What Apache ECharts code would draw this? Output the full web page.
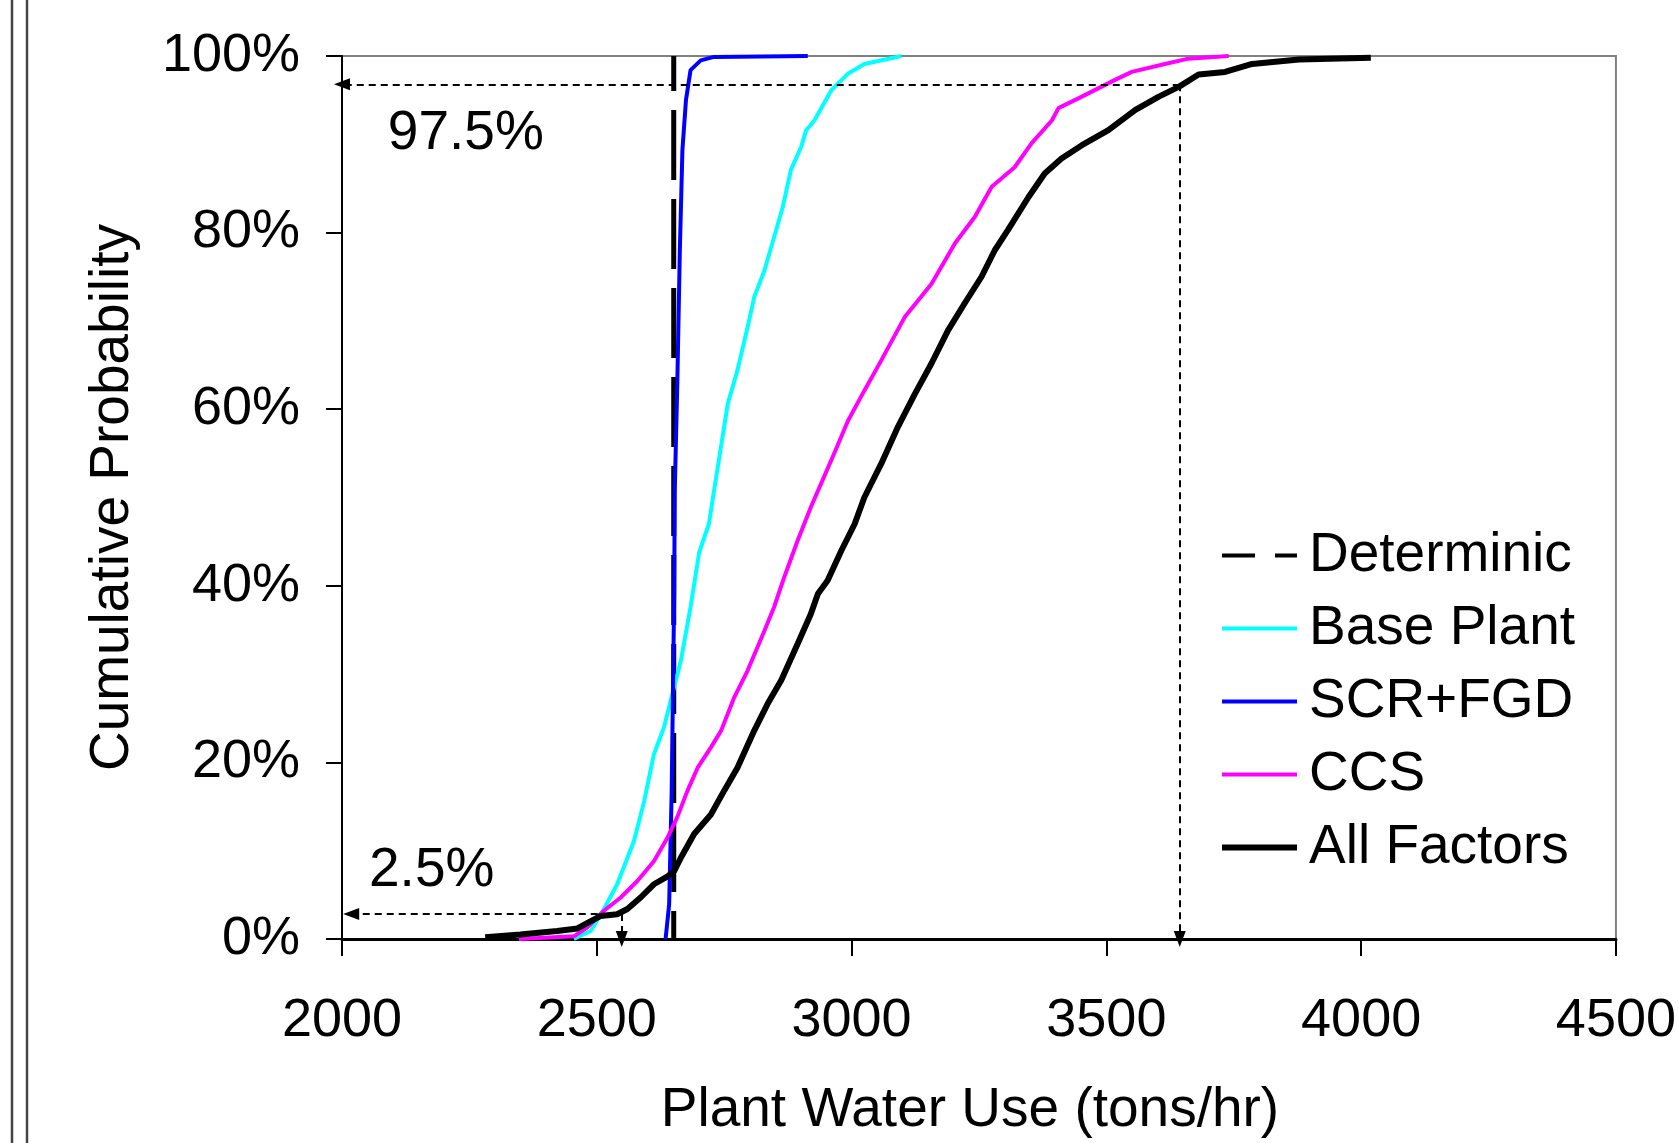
<!DOCTYPE html>
<html>
<head>
<meta charset="utf-8">
<script src="https://cdn.jsdelivr.net/npm/echarts@6/dist/echarts.min.js"></script>
<style>
html,body{margin:0;padding:0;background:#fff;overflow:hidden;}
#chart{width:1679px;height:1143px;}
</style>
</head>
<body>
<div id="chart"></div>
<script>
// ---- data (x = plant water use, tons/hr; y = cumulative probability) ----
const seriesNames = ['Determinic', 'Base Plant', 'SCR+FGD', 'CCS', 'All Factors'];
const xTicks = [2000, 2500, 3000, 3500, 4000, 4500];
const yTicks = [0, 0.2, 0.4, 0.6, 0.8, 1.0];

const determinic = [[2651, 1], [2651, 0]];

const basePlant = [[2455,0],[2488,0.009],[2514,0.034],[2540,0.062],[2573,0.111],[2593,0.156],[2612,0.209],[2632,0.240],[2648,0.277],[2665,0.315],[2684,0.376],[2701,0.438],[2720,0.470],[2728,0.500],[2757,0.606],[2776,0.644],[2796,0.693],[2809,0.727],[2829,0.757],[2848,0.795],[2865,0.829],[2881,0.871],[2901,0.897],[2911,0.916],[2927,0.927],[2960,0.961],[2993,0.980],[3025,0.991],[3098,1.0]];

const scrFgd = [[2635,0],[2642,0.039],[2647,0.168],[2652,0.395],[2653,0.508],[2658,0.629],[2663,0.780],[2668,0.893],[2675,0.950],[2684,0.984],[2704,0.995],[2730,0.999],[2914,1.0]];

const ccs = [[2347,0],[2455,0.003],[2481,0.013],[2514,0.032],[2547,0.047],[2580,0.066],[2612,0.088],[2639,0.115],[2658,0.138],[2678,0.168],[2698,0.194],[2724,0.217],[2744,0.236],[2770,0.274],[2796,0.304],[2829,0.349],[2848,0.376],[2868,0.410],[2894,0.451],[2920,0.489],[2960,0.542],[2993,0.587],[3025,0.621],[3058,0.655],[3104,0.704],[3157,0.742],[3203,0.788],[3242,0.818],[3275,0.852],[3320,0.874],[3353,0.901],[3393,0.927],[3406,0.941],[3452,0.954],[3517,0.973],[3550,0.982],[3615,0.991],[3661,0.997],[3740,1.0]];

const allFactors = [[2281,0.002],[2350,0.005],[2422,0.009],[2462,0.012],[2481,0.018],[2507,0.026],[2540,0.028],[2560,0.034],[2586,0.047],[2612,0.062],[2639,0.071],[2652,0.077],[2665,0.092],[2691,0.119],[2724,0.141],[2750,0.168],[2776,0.194],[2809,0.236],[2835,0.266],[2862,0.293],[2894,0.334],[2920,0.368],[2934,0.391],[2953,0.406],[2980,0.440],[3006,0.470],[3025,0.500],[3058,0.538],[3091,0.580],[3124,0.617],[3157,0.652],[3189,0.689],[3222,0.720],[3255,0.750],[3281,0.780],[3307,0.803],[3347,0.840],[3379,0.867],[3412,0.884],[3452,0.899],[3504,0.916],[3557,0.939],[3603,0.954],[3642,0.965],[3681,0.979],[3733,0.982],[3786,0.991],[3878,0.996],[4019,0.998]];

// annotation arrows: [from, to] in data units
const arrowLines = [
  [[3644, 0.968], [2000, 0.968]],
  [[3644, 0.968], [3644, 0]],
  [[2549, 0.0283], [2018, 0.0283]],
  [[2549, 0.0283], [2549, 0]]
];
const annotTexts = ['97.5%', '2.5%'];
const annotPos = [[2090, 0.9116], [2053, 0.0771]];

// ---- chart ----
const FONT = '"Liberation Sans", Arial, sans-serif';
const hiddenSymbol = { color: 'rgba(0,0,0,0)', borderWidth: 0, opacity: 0 };
const chart = echarts.init(document.getElementById('chart'));
chart.setOption({
  animation: false,
  backgroundColor: '#ffffff',
  textStyle: { fontFamily: FONT, color: '#000' },
  grid: { left: 342, right: 62, top: 56, bottom: 201, show: true, borderColor: '#808080', borderWidth: 2, containLabel: false },
  graphic: [
    { type: 'line', shape: { x1: 12, y1: 0, x2: 12, y2: 1143 }, style: { stroke: '#444', lineWidth: 2.5 } },
    { type: 'line', shape: { x1: 27, y1: 0, x2: 27, y2: 1143 }, style: { stroke: '#444', lineWidth: 2.5 } }
  ],
  legend: {
    orient: 'vertical',
    left: 1219,
    top: 528,
    padding: 0,
    itemWidth: 75,
    itemHeight: 14,
    itemGap: 18,
    textStyle: { fontFamily: FONT, fontSize: 55, color: '#000', padding: [0, 0, 0, 7] },
    data: [
      { name: seriesNames[0], itemStyle: hiddenSymbol, lineStyle: { type: [33, 20], dashOffset: 0, width: 4, color: '#000' } },
      { name: seriesNames[1], itemStyle: hiddenSymbol, lineStyle: { width: 4, color: '#00FFFF' } },
      { name: seriesNames[2], itemStyle: hiddenSymbol, lineStyle: { width: 4, color: '#0000FF' } },
      { name: seriesNames[3], itemStyle: hiddenSymbol, lineStyle: { width: 4, color: '#FF00FF' } },
      { name: seriesNames[4], itemStyle: hiddenSymbol, lineStyle: { width: 6, color: '#000' } }
    ]
  },
  xAxis: {
    type: 'value', min: xTicks[0], max: xTicks[xTicks.length - 1], interval: 500,
    name: 'Plant Water Use (tons/hr)', nameLocation: 'middle', nameGap: 144,
    nameTextStyle: { fontFamily: FONT, fontSize: 55, color: '#000', padding: [0, 18, 0, 0] },
    axisLine: { show: true, onZero: false, lineStyle: { color: '#000', width: 3 } },
    axisTick: { show: true, inside: false, length: 17, lineStyle: { color: '#000', width: 2 } },
    axisLabel: { fontFamily: FONT, fontSize: 54, color: '#000', margin: 55, formatter: v => String(v) },
    splitLine: { show: false }
  },
  yAxis: {
    type: 'value', min: yTicks[0], max: yTicks[yTicks.length - 1], interval: 0.2,
    name: 'Cumulative Probability', nameLocation: 'middle', nameGap: 202, nameRotate: 90,
    nameTextStyle: { fontFamily: FONT, fontSize: 55, color: '#000' },
    axisLine: { show: true, onZero: false, lineStyle: { color: '#000', width: 2 } },
    axisTick: { show: true, inside: false, length: 16, lineStyle: { color: '#000', width: 2 } },
    axisLabel: { fontFamily: FONT, fontSize: 54, color: '#000', margin: 42, formatter: v => Math.round(v * 100) + '%' },
    splitLine: { show: false }
  },
  series: [
    { name: seriesNames[0], type: 'line', data: determinic, symbol: 'none', z: 3,
      lineStyle: { color: '#000', width: 5, type: [70, 19], dashOffset: 35 }, itemStyle: { color: '#000' } },
    { name: seriesNames[1], type: 'line', data: basePlant, symbol: 'none', z: 4,
      lineStyle: { color: '#00FFFF', width: 4 }, itemStyle: { color: '#00FFFF' } },
    { name: seriesNames[2], type: 'line', data: scrFgd, symbol: 'none', z: 4,
      lineStyle: { color: '#0000FF', width: 4 }, itemStyle: { color: '#0000FF' } },
    { name: seriesNames[3], type: 'line', data: ccs, symbol: 'none', z: 4,
      lineStyle: { color: '#FF00FF', width: 4 }, itemStyle: { color: '#FF00FF' } },
    { name: seriesNames[4], type: 'line', data: allFactors, symbol: 'none', z: 5,
      lineStyle: { color: '#000', width: 6 }, itemStyle: { color: '#000' } },
    { name: 'annotations', type: 'scatter', z: 6, symbol: 'circle', symbolSize: 0,
      itemStyle: { opacity: 1, color: '#000' },
      data: annotPos.map((p, i) => ({ value: p, name: annotTexts[i] })),
      label: { show: true, position: 'right', distance: 0, formatter: p => p.name,
               fontFamily: FONT, fontSize: 55, color: '#000', opacity: 1 },
      markLine: {
        silent: true, symbol: ['none', 'triangle'], symbolSize: [12, 16],
        label: { show: false },
        lineStyle: { color: '#000', width: 2, type: [7, 5], opacity: 1 },
        data: arrowLines.map(l => [{ coord: l[0] }, { coord: l[1] }])
      }
    }
  ]
});
</script>
</body>
</html>
